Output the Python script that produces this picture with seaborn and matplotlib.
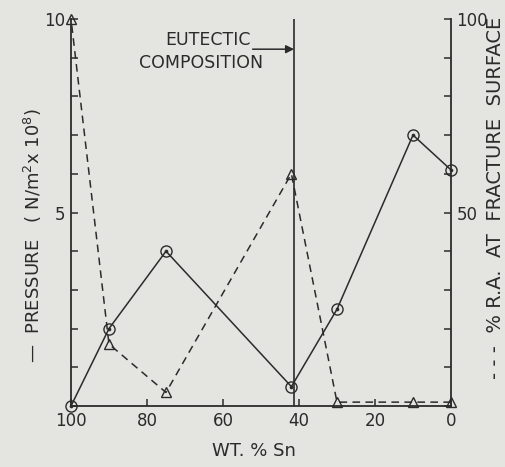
"""Pressure and %R.A. vs Sn content, eutectic marked."""

import matplotlib
matplotlib.use("Agg")
import matplotlib.pyplot as plt
import pandas as pd
import seaborn as sns

# Data
sn_wt = [100, 90, 75, 42, 30, 10, 0]
pressure = [0.0, 2.0, 4.0, 0.5, 2.5, 7.0, 6.1]        # N/m^2 x 10^8
ra_pct = [100, 16, 3.5, 60, 1, 1, 1]                  # % R.A. at fracture surface
eutectic_sn = 41.3

x_ticks = [100, 80, 60, 40, 20, 0]
left_ticks = list(range(0, 11))
left_labels = {5: "5", 10: "10"}
right_ticks = list(range(0, 101, 10))
right_labels = {50: "50", 100: "100"}

PAPER = "#e4e4e1"
INK = "#2b2b2b"

sns.set_theme(style="ticks")
plt.rcParams["font.family"] = ["DejaVu Sans"]

df = pd.DataFrame({"sn": sn_wt, "pressure": pressure, "ra": ra_pct})

fig = plt.figure(figsize=(5.06, 4.67), dpi=100, facecolor=PAPER)
ax = fig.add_axes([71 / 506, 1 - 406 / 467, 380 / 506, 387 / 467])
ax.set_facecolor(PAPER)
ax2 = ax.twinx()

# pressure: solid line, open circles with a centre dot
sns.lineplot(data=df, x="sn", y="pressure", ax=ax, color=INK, lw=1.1,
             marker="o", markersize=8, markerfacecolor="none",
             markeredgecolor=INK, markeredgewidth=1.0, clip_on=False)
sns.scatterplot(data=df, x="sn", y="pressure", ax=ax, color=INK, s=7,
                linewidth=0, clip_on=False, zorder=6)

# % R.A.: dashed line, open triangles
sns.lineplot(data=df, x="sn", y="ra", ax=ax2, color=INK, lw=1.1,
             linestyle=(0, (5, 3.5)), marker="^", markersize=7,
             markerfacecolor="none", markeredgecolor=INK,
             markeredgewidth=1.0, clip_on=False)

ax.axvline(eutectic_sn, color=INK, lw=1.2)

ax.set_xlim(100, 0)
ax.set_ylim(0, 10)
ax2.set_ylim(0, 100)

ax.set_xticks(x_ticks)
ax.set_xticklabels([str(t) for t in x_ticks])
ax.set_yticks(left_ticks)
ax.set_yticklabels([left_labels.get(t, "") for t in left_ticks])
ax2.set_yticks(right_ticks)
ax2.set_yticklabels([right_labels.get(t, "") for t in right_ticks])

for a in (ax, ax2):
    a.set_xlabel("")
    a.set_ylabel("")
    a.spines["top"].set_visible(False)
    for s in a.spines.values():
        s.set_color(INK)
        s.set_linewidth(1.3)
    a.tick_params(direction="in", length=5, width=1.1, colors=INK,
                  labelsize=12, pad=4)
ax.spines["right"].set_visible(False)
ax2.spines["left"].set_visible(False)
ax2.spines["bottom"].set_visible(False)

# eutectic annotation
ax.text(63.9, 9.46, "EUTECTIC", ha="center", va="center", fontsize=12.5, color=INK)
ax.text(65.8, 8.86, "COMPOSITION", ha="center", va="center", fontsize=12.5, color=INK)
ax.annotate("", xy=(eutectic_sn, 9.22), xytext=(52.2, 9.22),
            arrowprops=dict(arrowstyle="-|>", color=INK, lw=1.1,
                            mutation_scale=12, shrinkA=0, shrinkB=0))

fig.text(254 / 506, 1 - 451 / 467, "WT. % Sn", ha="center", va="center",
         fontsize=13, color=INK)
fig.text(33 / 506, 1 - 236 / 467,
         "—  PRESSURE   ( N/m$^2$x 10$^8$)",
         rotation=90, ha="center", va="center", fontsize=13, color=INK)
fig.text(496 / 506, 1 - 198 / 467,
         "- - -  % R.A.  AT  FRACTURE  SURFACE",
         rotation=90, ha="center", va="center", fontsize=14, color=INK)

fig.savefig("out.png", dpi=100, facecolor=PAPER)
